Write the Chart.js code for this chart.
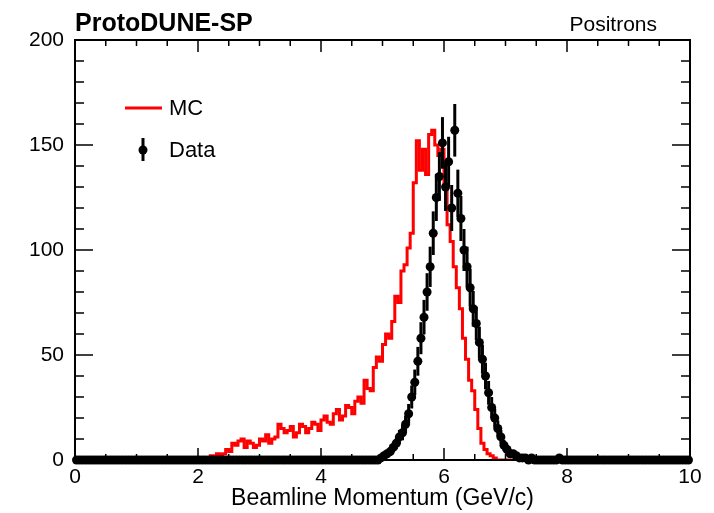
<!DOCTYPE html>
<html><head><meta charset="utf-8">
<script src="https://cdn.jsdelivr.net/npm/chart.js@4.4.1/dist/chart.umd.min.js"></script>
<style>html,body{margin:0;padding:0;background:#fff}#wrap{width:714px;height:513px}</style>
</head><body><div id="wrap"><canvas id="c" width="714" height="513"></canvas></div>
<script>
// ---- data (histogram bins of width 0.05 from 0 to 10) ----
const binWidth = 0.05;
const xRange = [0, 10];
const xTickLabels = [0, 2, 4, 6, 8, 10];
const yTickLabels = [0, 50, 100, 150, 200];
const xMinorStep = 0.5;
const yMinorStep = 10;

const mcCounts = [
  0,0,0,0,0,0,0,0,0,0, 0,0,0,0,0,0,0,0,0,0,
  0,0,0,0,0,0,0,0,0,0, 1,0,0,0,0,0,0,0,0,1,
  0,1,0,1,1,2,1,3,2,3, 5,4,8,7,9,10,6,9,8,6,
  7,10,9,12,8,10,11,17,15,13, 14,16,11,13,17,16,13,15,18,17,
  14,19,21,18,17,22,24,19,21,26, 25,22,28,30,27,38,34,33,44,49,
  47,55,60,58,66,78,75,90,93,101, 108,132,152,138,148,136,155,157,150,145,
  148,130,112,104,92,82,72,58,48,38, 33,24,15,8,5,3,2,1,0,0,
  0,0,0,0,0,0,0,0,0,0, 0,0,0,0,0,0,0,0,0,0,
  0,0,0,0,0,0,0,0,0,0, 0,0,0,0,0,0,0,0,0,0,
  0,0,0,0,0,0,0,0,0,0, 0,0,0,0,0,0,0,0,0,0
];

const dataCounts = [
  0,0,0,0,0,0,0,0,0,0, 0,0,0,0,0,0,0,0,0,0,
  0,0,0,0,0,0,0,0,0,0, 0,0,0,0,0,0,0,0,0,0,
  0,0,0,0,0,0,0,0,0,0, 0,0,0,0,0,0,0,0,0,0,
  0,0,0,0,0,0,0,0,0,0, 0,0,0,0,0,0,0,0,0,0,
  0,0,0,0,0,0,0,0,0,0, 0,0,0,0,0,0,0,0,0,1,
  2,3,4,6,8,11,13,17,22,30, 37,47,58,68,80,92,108,125,135,151,
  130,142,120,157,127,115,100,92,82,72, 65,56,48,40,32,25,20,15,11,7,
  5,3,3,2,1,1,1,0,1,0, 0,0,0,0,0,0,0,1,0,0,
  0,0,0,0,0,0,0,0,0,0, 0,0,0,0,0,0,0,0,0,0,
  0,0,0,0,0,0,0,0,0,0, 0,0,0,0,0,0,0,0,0,0
];

const FONT = "'Liberation Sans', Arial, Helvetica, sans-serif";

// step line through bin edges (histogram outline)
const mcPoints = mcCounts.map((v, i) => ({x: xRange[0] + i * binWidth, y: v}));
mcPoints.push({x: xRange[0] + mcCounts.length * binWidth, y: mcCounts[mcCounts.length - 1]});
const dataPoints = dataCounts.map((v, i) => ({x: xRange[0] + (i + 0.5) * binWidth, y: v}));

const framePlugin = {
  id: 'frame',
  afterDatasetDraw(chart, args) {
    if (args.index !== 0) return;
    // error bars (sqrt N) under data markers
    const xs = chart.scales.x, ys = chart.scales.y, ctx = chart.ctx;
    ctx.save();
    ctx.strokeStyle = '#000';
    ctx.lineWidth = 3;
    dataPoints.forEach(p => {
      if (p.y <= 0) return;
      const e = Math.sqrt(p.y);
      const px = xs.getPixelForValue(p.x);
      ctx.beginPath();
      ctx.moveTo(px, ys.getPixelForValue(p.y - e));
      ctx.lineTo(px, ys.getPixelForValue(p.y + e));
      ctx.stroke();
    });
    ctx.restore();
  },
  afterDraw(chart) {
    const {ctx, chartArea: a, scales: {x: xs, y: ys}} = chart;
    ctx.save();
    ctx.strokeStyle = '#000';
    ctx.lineWidth = 2;
    ctx.strokeRect(a.left, a.top, a.right - a.left, a.bottom - a.top);
    ctx.lineWidth = 1.5;
    // x ticks (bottom & top, inward)
    for (let v = xRange[0]; v <= xRange[1] + 1e-9; v += xMinorStep) {
      const major = xTickLabels.some(t => Math.abs(t - v) < 1e-9);
      const len = major ? 12 : 6;
      const px = xs.getPixelForValue(v);
      ctx.beginPath();
      ctx.moveTo(px, a.bottom); ctx.lineTo(px, a.bottom - len);
      ctx.moveTo(px, a.top); ctx.lineTo(px, a.top + len);
      ctx.stroke();
    }
    // y ticks (left & right, inward)
    for (let v = yTickLabels[0]; v <= yTickLabels[yTickLabels.length - 1] + 1e-9; v += yMinorStep) {
      const major = yTickLabels.some(t => Math.abs(t - v) < 1e-9);
      const len = major ? 18 : 9;
      const py = ys.getPixelForValue(v);
      ctx.beginPath();
      ctx.moveTo(a.left, py); ctx.lineTo(a.left + len, py);
      ctx.moveTo(a.right, py); ctx.lineTo(a.right - len, py);
      ctx.stroke();
    }
    // header texts
    ctx.fillStyle = '#000';
    ctx.textBaseline = 'alphabetic';
    ctx.textAlign = 'left';
    ctx.font = 'bold 25px ' + FONT;
    ctx.fillText('ProtoDUNE-SP', a.left, 31);
    ctx.textAlign = 'right';
    ctx.font = '21px ' + FONT;
    ctx.fillText('Positrons', 657, 31);
    // legend
    ctx.strokeStyle = '#ff0000';
    ctx.lineWidth = 3;
    ctx.beginPath(); ctx.moveTo(125, 108); ctx.lineTo(162, 108); ctx.stroke();
    ctx.strokeStyle = '#000';
    ctx.lineWidth = 3;
    ctx.beginPath(); ctx.moveTo(143, 138); ctx.lineTo(143, 161); ctx.stroke();
    ctx.beginPath(); ctx.arc(143, 150, 4.5, 0, Math.PI * 2); ctx.fill();
    ctx.textAlign = 'left';
    ctx.textBaseline = 'middle';
    ctx.font = '22px ' + FONT;
    ctx.fillText('MC', 169, 109);
    ctx.fillText('Data', 169, 151);
    ctx.restore();
  }
};

Chart.defaults.font.family = FONT;
Chart.defaults.color = '#000';

new Chart(document.getElementById('c'), {
  type: 'scatter',
  data: {
    datasets: [
      {
        type: 'line', label: 'MC', data: mcPoints, stepped: 'after',
        borderColor: '#ff0000', borderWidth: 3, pointRadius: 0, fill: false, order: 1
      },
      {
        type: 'scatter', label: 'Data', data: dataPoints,
        pointRadius: 4.5, pointBackgroundColor: '#000', pointBorderWidth: 0,
        borderColor: '#000', showLine: false, order: 0, clip: false
      }
    ]
  },
  options: {
    responsive: false, devicePixelRatio: 1, animation: false,
    layout: {padding: {top: 40, right: 24, left: 0, bottom: 0}},
    plugins: {legend: {display: false}, tooltip: {enabled: false}},
    scales: {
      x: {
        type: 'linear', min: xRange[0], max: xRange[1],
        afterBuildTicks: s => { s.ticks = xTickLabels.map(v => ({value: v})); },
        afterFit: s => { s.height = 53; },
        ticks: {font: {size: 21}, color: '#000', padding: 5, maxRotation: 0, autoSkip: false},
        grid: {display: false, drawTicks: false},
        border: {display: true, color: '#000', width: 2},
        title: {display: true, text: 'Beamline Momentum (GeV/c)', font: {size: 23}, color: '#000', padding: {top: 0, bottom: 1}}
      },
      y: {
        min: yTickLabels[0], max: yTickLabels[yTickLabels.length - 1],
        afterBuildTicks: s => { s.ticks = yTickLabels.map(v => ({value: v})); },
        afterFit: s => { s.width = 75; },
        ticks: {font: {size: 21}, color: '#000', padding: 11},
        grid: {display: false, drawTicks: false},
        border: {display: true, color: '#000', width: 2}
      }
    }
  },
  plugins: [framePlugin]
});
</script>
</body></html>
